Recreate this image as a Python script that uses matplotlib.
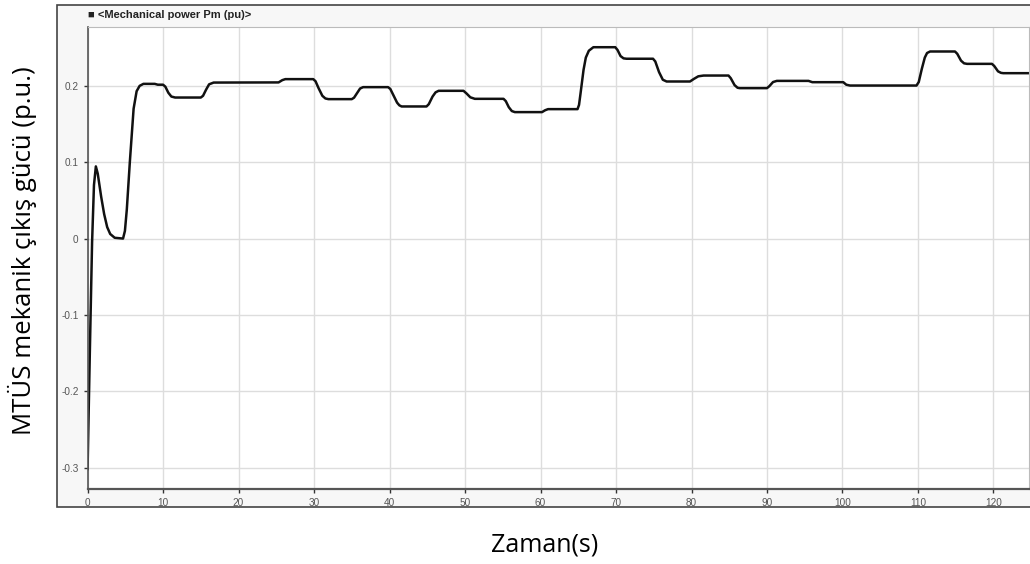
import matplotlib
matplotlib.use("Agg")
import matplotlib.pyplot as plt
import matplotlib.patches as patches

# time (s) and mechanical power Pm (pu)
time_s = [0, 0.3, 0.6, 0.85, 1.1, 1.35, 1.8, 2.2, 2.6, 3.0, 3.6, 4.7, 4.95, 5.2,
          5.6, 6.1, 6.5, 6.9, 7.4, 8.9, 9.3, 10.0, 10.3, 10.7, 11.1, 11.6, 15.0,
          15.3, 15.7, 16.1, 16.7, 25.3, 25.8, 26.2, 29.9, 30.2, 30.6, 31.1, 31.5,
          31.9, 35.0, 35.3, 35.8, 36.1, 36.5, 39.8, 40.1, 40.5, 41.0, 41.3, 41.6,
          44.9, 45.2, 45.7, 46.1, 46.5, 49.8, 50.2, 50.7, 51.3, 55.1, 55.4, 55.8,
          56.2, 56.6, 60.2, 60.6, 61.0, 64.9, 65.1, 65.3, 65.7, 66.0, 66.4, 67.0,
          69.9, 70.2, 70.6, 71.0, 71.4, 74.9, 75.2, 75.7, 76.2, 76.7, 79.8, 80.3,
          80.9, 81.6, 84.9, 85.2, 85.7, 86.1, 86.4, 90.0, 90.3, 90.8, 91.3, 95.5,
          96.0, 100.1, 100.5, 101.0, 109.8, 110.1, 110.5, 110.9, 111.2, 111.6,
          114.9, 115.2, 115.7, 116.1, 116.5, 119.8, 120.1, 120.6, 121.0, 121.3,
          125]
pm_pu = [-0.302, -0.15, -0.005, 0.07, 0.0945, 0.085, 0.055, 0.032, 0.015, 0.006,
         0.001, 0.0, 0.010, 0.038, 0.100, 0.170, 0.193, 0.200, 0.2026, 0.2026,
         0.2015, 0.2015, 0.199, 0.191, 0.186, 0.1847, 0.1847, 0.187, 0.195,
         0.202, 0.2043, 0.2045, 0.2075, 0.2088, 0.2088, 0.206, 0.197, 0.187,
         0.1835, 0.1826, 0.1826, 0.1845, 0.192, 0.1965, 0.1983, 0.1983, 0.196,
         0.188, 0.178, 0.1745, 0.173, 0.173, 0.176, 0.186, 0.1915, 0.1935,
         0.1935, 0.190, 0.185, 0.183, 0.183, 0.180, 0.172, 0.167, 0.1656, 0.1656,
         0.168, 0.1695, 0.1695, 0.175, 0.190, 0.221, 0.237, 0.246, 0.2506,
         0.2506, 0.247, 0.239, 0.236, 0.2355, 0.2355, 0.232, 0.218, 0.208,
         0.2057, 0.2057, 0.209, 0.2125, 0.2135, 0.2135, 0.210, 0.201, 0.1975,
         0.197, 0.197, 0.1995, 0.205, 0.2065, 0.2065, 0.2048, 0.2048, 0.2015,
         0.2004, 0.2004, 0.205, 0.222, 0.237, 0.243, 0.245, 0.245, 0.242, 0.233,
         0.2295, 0.2288, 0.2288, 0.226, 0.219, 0.217, 0.2166, 0.2166]

x_ticks = [0, 10, 20, 30, 40, 50, 60, 70, 80, 90, 100, 110, 120]
y_ticks = [-0.3, -0.2, -0.1, 0, 0.1, 0.2]
y_tick_labels = ["-0.3", "-0.2", "-0.1", "0", "0.1", "0.2"]

fig = plt.figure(figsize=(10.30, 5.64), dpi=100)

# scope frame behind the axes
frame = patches.Rectangle((0.0553, 0.101), 1.0, 0.890, transform=fig.transFigure,
                          facecolor="#f7f7f7", edgecolor="#444444", linewidth=1.2,
                          zorder=-5)
fig.patches.append(frame)

ax = fig.add_axes([0.0850, 0.1330, 0.9140, 0.8197])
ax.set_zorder(2)
ax.set_facecolor("white")
ax.plot(time_s, pm_pu, color="#111111", linewidth=1.8,
        solid_joinstyle="round")

ax.set_xlim(0, 124.7)
ax.set_ylim(-0.328, 0.2775)
ax.set_xticks(x_ticks)
ax.set_yticks(y_ticks)
ax.set_yticklabels(y_tick_labels)
ax.grid(True, color="#dddddd", linewidth=1.0)
ax.set_axisbelow(True)
ax.tick_params(axis="both", labelsize=7.2, labelcolor="#555555", color="#333333",
               length=3, width=1)
for lbl in ax.get_xticklabels() + ax.get_yticklabels():
    lbl.set_family("Liberation Sans")

ax.spines["bottom"].set_color("#555555")
ax.spines["bottom"].set_linewidth(1.6)
ax.spines["left"].set_color("#555555")
ax.spines["left"].set_linewidth(1.2)
ax.spines["top"].set_color("#bbbbbb")
ax.spines["right"].set_color("#bbbbbb")

fig.text(0.0855, 0.973, "\u25a0 <Mechanical power Pm (pu)>", fontsize=8,
         fontweight="bold", color="#222222", va="center",
         family=["Liberation Sans", "DejaVu Sans"])

fig.text(0.0214, 0.555, "MTÜS mekanik çıkış gücü (p.u.)", rotation=90,
         fontsize=18.5, family="Open Sans", ha="center", va="center")
fig.text(0.529, 0.034, "Zaman(s)", fontsize=18, family="Open Sans",
         ha="center", va="center")

fig.savefig("out.png", dpi=100)
